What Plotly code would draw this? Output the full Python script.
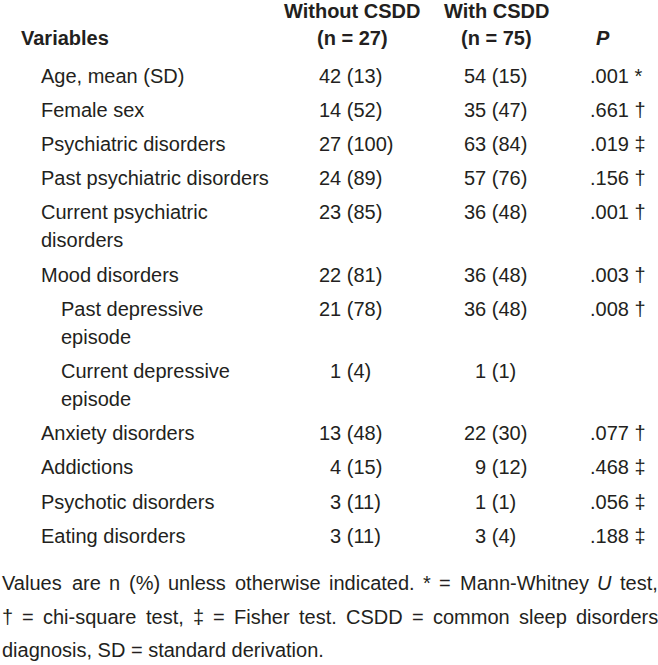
import plotly.graph_objects as go

# ---- data ----
variables = ["Age, mean (SD)", "Female sex", "Psychiatric disorders", "Past psychiatric disorders",
             "Current psychiatric<br>disorders", "Mood disorders", "Past depressive<br>episode",
             "Current depressive<br>episode", "Anxiety disorders", "Addictions",
             "Psychotic disorders", "Eating disorders"]
indent = [0, 0, 0, 0, 0, 0, 1, 1, 0, 0, 0, 0]
without_n = [42, 14, 27, 24, 23, 22, 21, 1, 13, 4, 3, 3]
without_pct = [13, 52, 100, 89, 85, 81, 78, 4, 48, 15, 11, 11]
with_n = [54, 35, 63, 57, 36, 36, 36, 1, 22, 9, 1, 3]
with_pct = [15, 47, 84, 76, 48, 48, 48, 1, 30, 12, 1, 4]
p_values = [".001", ".661", ".019", ".156", ".001", ".003", ".008", "", ".077", ".468", ".056", ".188"]
p_tests = ["*", "†", "‡", "†", "†", "†", "†", "", "†", "‡", "‡", "‡"]
headers = ["Variables", "Without CSDD<br>(n = 27)", "With CSDD<br>(n = 75)", "<i>P</i>"]
footnote = ["Values are n (%) unless otherwise indicated. * = Mann-Whitney <i>U</i> test,",
            "† = chi-square test, ‡ = Fisher test. CSDD = common sleep disorders",
            "diagnosis, SD = standard derivation."]

W, H = 658, 665
FONT = "Liberation Sans, Arial, sans-serif"
FS = 20
COLOR = "#231f20"
FIG = "\u2007"
YOFF = 0.0

# Arial / Liberation Sans advance widths (1/1000 em) for the justified footnote
ADV = {" ": 278, "%": 889, "(": 333, ")": 333, "*": 389, ",": 278, "-": 333, ".": 278,
       "=": 584, "A": 667, "C": 722, "D": 722, "F": 611, "M": 833, "S": 667, "U": 722,
       "V": 667, "W": 944, "a": 556, "b": 556, "c": 500, "d": 556, "e": 556, "f": 278,
       "g": 556, "h": 556, "i": 222, "k": 500, "l": 222, "m": 833, "n": 556, "o": 556,
       "p": 556, "q": 556, "r": 333, "s": 500, "t": 278, "u": 556, "v": 500, "w": 722,
       "x": 500, "y": 500, "†": 556, "‡": 556}

annotations = []


def add(text, x, y, anchor="left", bold=False, size=FS):
    if bold:
        text = "<b>" + text + "</b>"
    annotations.append(dict(text=text, x=x, y=y + YOFF, xref="x", yref="y", xanchor=anchor,
                            yanchor="middle", showarrow=False, borderpad=0,
                            font=dict(family=FONT, size=size, color=COLOR)))


def width(word):
    plain = word.replace("<i>", "").replace("</i>", "")
    return sum(ADV.get(c, 556) for c in plain) * FS / 1000.0


# header
col_x = [20, 352, 496, 603]
hdr_y = [11, 38]
for i, h in enumerate(headers):
    parts = h.split("<br>")
    if len(parts) == 1:
        add(parts[0], col_x[i], hdr_y[1], "left" if i == 0 else "center", bold=True)
    else:
        for j, p in enumerate(parts):
            add(p, col_x[i], hdr_y[j], "center", bold=True)

# body
y0, pitch, extra = 75.5, 34.2, 28
extra_lines = 0
for i, label in enumerate(variables):
    y = y0 + pitch * i + extra * extra_lines
    lines = label.split("<br>")
    for j, ln in enumerate(lines):
        add(ln, 40 + 20 * indent[i], y + extra * j)
    wo = (FIG if without_n[i] < 10 else "") + f"{without_n[i]} ({without_pct[i]})"
    wi = (FIG if with_n[i] < 10 else "") + f"{with_n[i]} ({with_pct[i]})"
    add(wo, 318, y)
    add(wi, 463, y)
    if p_values[i]:
        add(p_values[i] + " " + p_tests[i], 589, y)
    extra_lines += len(lines) - 1

# footnote (justified like the source, last line flush left)
left, right = 1, 657
for k, ln in enumerate(footnote):
    y = 583 + 33.5 * k
    if k == len(footnote) - 1:
        add(ln, left, y)
        continue
    words = ln.split(" ")
    total = sum(width(w) for w in words)
    gap = (right - left - total) / (len(words) - 1)
    x = left
    for w in words:
        add(w, x, y)
        x += width(w) + gap

fig = go.Figure()
fig.update_layout(
    width=W, height=H, margin=dict(l=0, r=0, t=0, b=0),
    paper_bgcolor="white", plot_bgcolor="white",
    xaxis=dict(range=[0, W], visible=False, fixedrange=True),
    yaxis=dict(range=[H, 0], visible=False, fixedrange=True),
    annotations=annotations, showlegend=False,
)
fig.write_html("out.html", config={"displayModeBar": False},
               post_script="document.body.style.margin='0';document.body.style.overflow='hidden';")
